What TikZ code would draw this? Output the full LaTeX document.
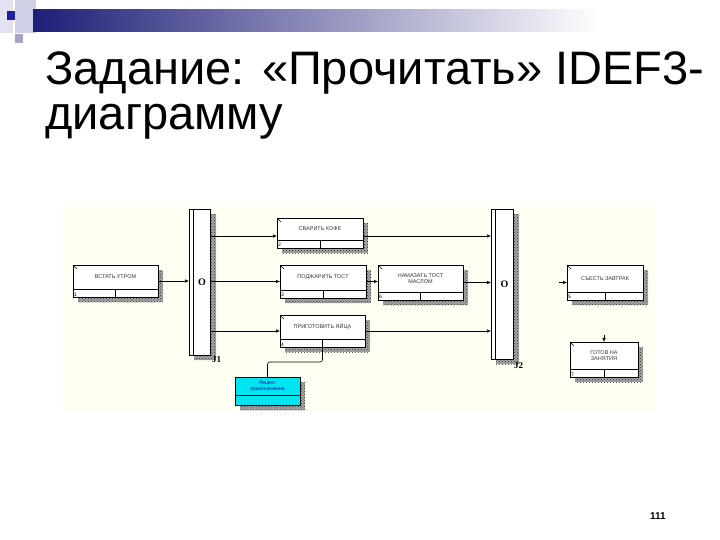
\documentclass[tikz,border=0pt]{standalone}
\usepackage{fontspec}
\setmainfont{Liberation Sans}
\newfontfamily\serifb{Liberation Serif}
\usetikzlibrary{calc,patterns,arrows.meta}
\definecolor{navy}{HTML}{1E1E78}
\definecolor{lavA}{HTML}{E2E2F0}
\definecolor{lavB}{HTML}{CFCFE6}
\definecolor{lavC}{HTML}{A4A4C8}
\definecolor{blueSq}{HTML}{2020A0}
\definecolor{cream}{HTML}{FEFEF2}
\definecolor{cyanbox}{HTML}{00E4F0}
\definecolor{reftext}{HTML}{0000B0}
\tikzset{
  uowbox/.style={draw, line width=0.7pt, fill=white, inner sep=0pt, outer sep=0pt},
  boxtxt/.style={font=\fontsize{5.5}{6.2}\selectfont, text=black!80, align=center, inner sep=0pt},
  numtxt/.style={font=\fontsize{5}{5}\selectfont, inner sep=0.8pt},
  shadowfill/.style={fill=black!35, postaction={pattern=crosshatch dots, pattern color=black!80}},
  juncbox/.style={draw, line width=0.8pt, fill=white, inner sep=0pt, outer sep=0pt},
  jtxt/.style={font=\serifb\bfseries\fontsize{9}{9}\selectfont, inner sep=0pt},
  otxt/.style={font=\serifb\bfseries\fontsize{10}{10}\selectfont, inner sep=0pt},
  arr/.style={line width=0.6pt, -{Latex[length=4pt,width=3.5pt]}},
  link/.style={line width=0.6pt, rounded corners=2.5pt},
  titletxt/.style={font=\fontsize{47}{52}\selectfont, anchor=base west, inner sep=0pt}
}
% unit of work box: name, cx, cy, w, h, text, number
\newcommand\myuow[7]{%
  \fill[shadowfill] ({#2-#4/2+5},{#3-#5/2+5}) rectangle ({#2+#4/2+5},{#3+#5/2+5});
  \node[uowbox, minimum width=#4pt, minimum height=#5pt] (#1) at (#2,#3) {};
  \draw[line width=0.6pt] ([yshift=8pt]#1.south west) -- ([yshift=8pt]#1.south east);
  \draw[line width=0.6pt] ([yshift=8pt]#1.south) -- (#1.south);
  \draw[line width=0.5pt] (#1.north west) -- ++(4pt,-4pt);
  \node[boxtxt] (#1t) at ($(#1.north)!0.5!([yshift=8pt]#1.south)$) {#6};
  \node[numtxt, anchor=south west] (#1n) at (#1.south west) {#7};
}
% junction: name, cx, cy, w, h
\newcommand\myjunc[5]{%
  \fill[shadowfill] ({#2-#4/2+5},{#3-#5/2+5}) rectangle ({#2+#4/2+6},{#3+#5/2+5});
  \node[juncbox, minimum width=#4pt, minimum height=#5pt] (#1) at (#2,#3) {};
  \draw[line width=0.8pt] ([xshift=4.5pt]#1.north west) -- ([xshift=4.5pt]#1.south west);
  \node[otxt] (#1o) at ($(#1.center)+(2.5,0)$) {O};
}
\begin{document}
\begin{tikzpicture}[x=1pt,y=-1pt]
\useasboundingbox (0,0) rectangle (720,540);
\fill[white] (0,0) rectangle (720,540);
% slide decoration
\fill[lavA] (0,0) rectangle (13,33);
\fill[lavB] (15,0) rectangle (36,33);
\fill[blueSq] (7,11) rectangle (15,20);
\fill[lavC] (15,34) rectangle (23,43);
\shade[left color=navy, right color=white] (33,10) rectangle (600,32);
% title
\node[titletxt] (t1) at (45,85) {Задание: «Прочитать» IDEF3-};
\node[titletxt] (t2) at (45,130) {диаграмму};
% diagram background
\fill[cream] (63,206) rectangle (655,412);
% junctions
\myjunc{J1}{199.5}{282}{21}{146}
\myjunc{J2}{502}{284}{22}{150}
\node[jtxt, anchor=north west] (J1l) at (212,356) {J1};
\node[jtxt, anchor=north west] (J2l) at (514,362) {J2};
% units of work
\myuow{U1}{115.5}{281}{85}{32}{ВСТАТЬ УТРОМ}{1}
\myuow{U2}{320}{233}{86}{30}{СВАРИТЬ КОФЕ}{2}
\myuow{U3}{323}{281.5}{86}{33}{ПОДЖАРИТЬ ТОСТ}{3}
\myuow{U6}{420.5}{282.5}{85}{35}{НАМАЗАТЬ ТОСТ\\МАСЛОМ}{6}
\myuow{U4}{322.5}{331}{85}{32}{ПРИГОТОВИТЬ ЯЙЦА}{4}
\myuow{U5}{605}{282.5}{76}{35}{СЪЕСТЬ ЗАВТРАК}{5}
\myuow{U7}{604}{359.5}{68}{35}{ГОТОВ НА\\ЗАНЯТИЯ}{7}
% referent
\fill[shadowfill] (240,382) rectangle (305,410);
\node[draw, line width=0.7pt, fill=cyanbox, minimum width=65pt, minimum height=28pt, inner sep=0pt, outer sep=0pt] (R) at (267.5,391) {};
\draw[line width=0.6pt] ([yshift=10pt]R.south west) -- ([yshift=10pt]R.south east);
\node[font=\fontsize{5}{5.8}\selectfont, text=reftext, align=center, inner sep=0pt] (Rt) at ($(R.north)!0.5!([yshift=10pt]R.south)$) {Рецепт\\приготовления};
% connectors
\draw[arr] (U1.east) -- (U1.east -| J1.west);
\draw[arr] ([yshift=-3pt]U2.west -| J1.east) -- ([yshift=-3pt]U2.west);
\draw[arr] (U3.west -| J1.east) -- (U3.west);
\draw[arr] (U4.west -| J1.east) -- (U4.west);
\draw[arr] (U3.east) -- (U3.east -| U6.west);
\draw[arr] ([yshift=-3pt]U2.east) -- ([yshift=-3pt]U2.east -| J2.west);
\draw[arr] (U6.east) -- (U6.east -| J2.west);
\draw[arr] (U4.east) -- (U4.east -| J2.west);
\coordinate (s5) at (559,282.5);
\draw[arr] (s5) -- (U5.west);
\coordinate (s7) at (604,335);
\draw[arr] (s7) -- (U7.north);
\draw[link] (U4.south) -- ++(0,15) -| (R.north);
% page number
\node[font=\bfseries\fontsize{10}{10}\selectfont, inner sep=0pt] (pg) at (658,516) {111};
\end{tikzpicture}
\end{document}
